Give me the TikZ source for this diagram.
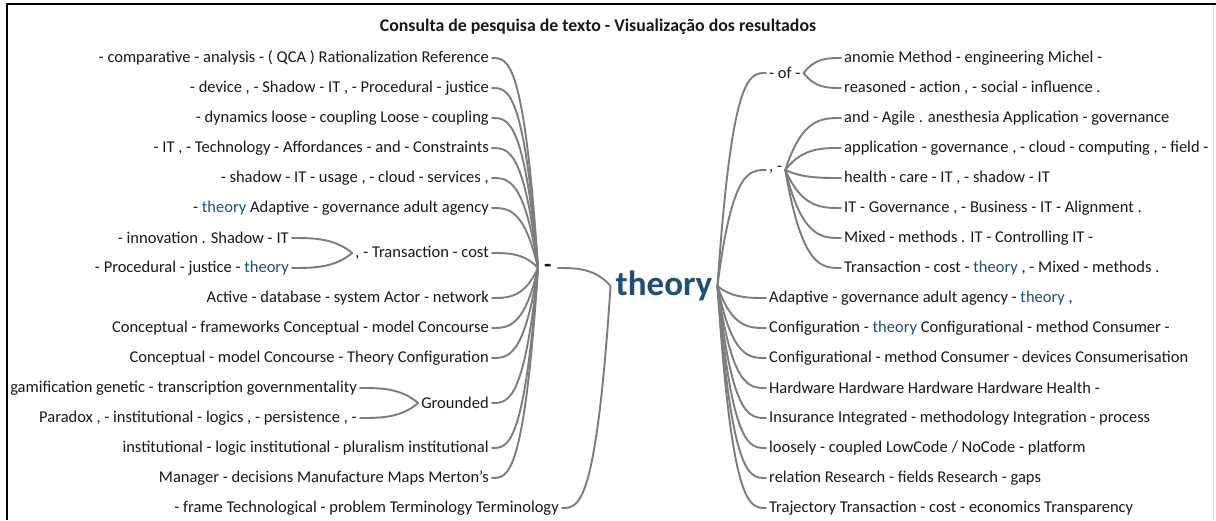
\documentclass[tikz,border=0pt]{standalone}
\usepackage{fontspec}
\setmainfont{Carlito}
\usetikzlibrary{calc}
\definecolor{tblue}{RGB}{31,78,121}
\definecolor{linkgray}{RGB}{125,125,125}
\definecolor{ink}{RGB}{25,25,25}
\newcommand\hl{\textcolor{tblue}{theory}}
% curved branch: steep at the hub, horizontal at the leaf
\newcommand\twig[2]{\draw[link] let \p1=(#1), \p2=(#2) in (\p1) .. controls ({\x1+0.3*(\x2-\x1)},\y2) and ({\x1+0.65*(\x2-\x1)},\y2) .. (\p2);}

\begin{document}
\begin{tikzpicture}[x=1pt,y=-1pt,
  word/.style={font=\fontsize{16.5}{19}\selectfont, text=ink, inner sep=3pt},
  lw/.style={word, anchor=east},
  rw/.style={word, anchor=west},
  link/.style={draw=linkgray, line width=1.9pt, line cap=round},
]
\useasboundingbox (0,0) rectangle (1216,520);
\fill[white] (0,0) rectangle (1216,520);
% frame
\draw[line width=2pt] (7,520) -- (7,4) -- (1216,4);
\draw[black!15, line width=1pt] (1213,6) -- (1213,520);

\node[font=\bfseries\fontsize{17.8}{20}\selectfont, text=ink] (title) at (598,27) {Consulta de pesquisa de texto - Visualização dos resultados};

% centre word and its left hub
\node[font=\bfseries\fontsize{35}{40}\selectfont, text=tblue, inner sep=5pt] (root) at (664,286) {theory};
\node[font=\bfseries\fontsize{24}{26}\selectfont, text=ink, inner sep=6pt, anchor=west] (dash) at (538,268) {-};

% left branches
\node[lw] (l1) at (492,58) {- comparative - analysis - ( QCA ) Rationalization Reference};
\node[lw] (l2) at (492,88) {- device , - Shadow - IT , - Procedural - justice};
\node[lw] (l3) at (492,118) {- dynamics loose - coupling Loose - coupling};
\node[lw] (l4) at (492,148) {- IT , - Technology - Affordances - and - Constraints};
\node[lw] (l5) at (492,178) {- shadow - IT - usage , - cloud - services ,};
\node[lw] (l6) at (492,208) {- \hl{} Adaptive - governance adult agency};
\node[lw] (trans) at (492,253) {, - Transaction - cost};
\node[lw] (t1) at (292,238) {- innovation . Shadow - IT};
\node[lw] (t2) at (292,268) {- Procedural - justice - \hl};
\node[lw] (l8) at (492,298) {Active - database - system Actor - network};
\node[lw] (l9) at (492,328) {Conceptual - frameworks Conceptual - model Concourse};
\node[lw] (l10) at (492,358) {Conceptual - model Concourse - Theory Configuration};
\node[lw] (grounded) at (492,403) {Grounded};
\node[lw] (g1) at (360,388) {gamification genetic - transcription governmentality};
\node[lw] (g2) at (360,418) {Paradox , - institutional - logics , - persistence , -};
\node[lw] (l12) at (492,448) {institutional - logic institutional - pluralism institutional};
\node[lw] (l13) at (492,478) {Manager - decisions Manufacture Maps Merton's};
\node[lw] (lframe) at (562,508) {- frame Technological - problem Terminology Terminology};

% right branches
\node[rw] (of) at (766,73) {- of -};
\node[rw] (o1) at (841,58) {anomie Method - engineering Michel -};
\node[rw] (o2) at (841,88) {reasoned - action , - social - influence .};
\node[rw] (comma) at (766,170) {, -};
\node[rw] (c1) at (841,118) {and - Agile . anesthesia Application - governance};
\node[rw] (c2) at (841,148) {application - governance , - cloud - computing , - field -};
\node[rw] (c3) at (841,178) {health - care - IT , - shadow - IT};
\node[rw] (c4) at (841,208) {IT - Governance , - Business - IT - Alignment .};
\node[rw] (c5) at (841,238) {Mixed - methods . IT - Controlling IT -};
\node[rw] (c6) at (841,268) {Transaction - cost - \hl{} , - Mixed - methods .};
\node[rw] (r1) at (766,298) {Adaptive - governance adult agency - \hl{} ,};
\node[rw] (r2) at (766,328) {Configuration - \hl{} Configurational - method Consumer -};
\node[rw] (r3) at (766,358) {Configurational - method Consumer - devices Consumerisation};
\node[rw] (r4) at (766,388) {Hardware Hardware Hardware Hardware Health -};
\node[rw] (r5) at (766,418) {Insurance Integrated - methodology Integration - process};
\node[rw] (r6) at (766,448) {loosely - coupled LowCode / NoCode - platform};
\node[rw] (r7) at (766,478) {relation Research - fields Research - gaps};
\node[rw] (r8) at (766,508) {Trajectory Transaction - cost - economics Transparency};

% connectors
\foreach \k in {l1,l2,l3,l4,l5,l6,trans,l8,l9,l10,grounded,l12,l13} {\twig{dash.west}{\k.east}}
\twig{trans.west}{t1.east}
\twig{trans.west}{t2.east}
\twig{grounded.west}{g1.east}
\twig{grounded.west}{g2.east}
\twig{root.west}{dash.east}
\twig{root.west}{lframe.east}
\foreach \k in {of,comma,r1,r2,r3,r4,r5,r6,r7,r8} {\twig{root.east}{\k.west}}
\twig{of.east}{o1.west}
\twig{of.east}{o2.west}
\foreach \k in {c1,c2,c3,c4,c5,c6} {\twig{comma.east}{\k.west}}
\end{tikzpicture}
\end{document}
